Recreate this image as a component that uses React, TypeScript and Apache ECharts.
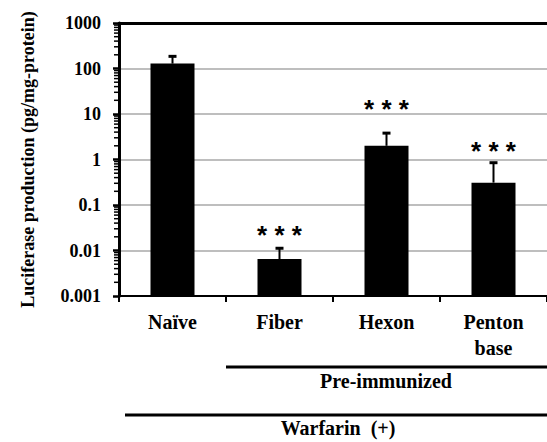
import React, { useEffect, useRef } from "react";
import * as echarts from "echarts";

// Group names and measured luciferase levels (pg/mg-protein)
const categories = ["Naïve", "Fiber", "Hexon", "Penton\nbase"];
const meanValues = [128, 0.0065, 2.0, 0.31];
const upperValues = [185, 0.0112, 3.8, 0.85];
// Significance marks and the level (in data units) they are written at
const sigLabels = ["", "* * *", "* * *", "* * *"];
const sigLevels = [0, 0.029, 17.4, 2.1];
const yTickLabels = ["0.001", "0.01", "0.1", "1", "10", "100", "1000"];
const groupLabels = ["Pre-immunized", "Warfarin  (+)"];
const yAxisTitle = "Luciferase production (pg/mg-protein)";

const Y_MIN = 0.001;
const Y_MAX = 1000;
const BAR_WIDTH = 44;

const SERIF = "'Liberation Serif', 'Times New Roman', serif";
const SANS = "'Liberation Sans', Arial, sans-serif";

export default function App() {
  const ref = useRef<HTMLDivElement>(null);

  useEffect(() => {
    if (!ref.current) return;
    const chart = echarts.init(ref.current, undefined, { renderer: "svg" });

    chart.setOption({
      animation: false,
      backgroundColor: "#fff",
      grid: { left: 119, top: 23, width: 434, height: 273, containLabel: false },
      xAxis: [
        {
          type: "category",
          data: categories,
          boundaryGap: true,
          axisLine: { lineStyle: { color: "#000", width: 2 } },
          axisTick: { show: true, alignWithLabel: false, length: 6, lineStyle: { color: "#000", width: 2 } },
          axisLabel: {
            color: "#000",
            fontFamily: SERIF,
            fontWeight: "bold",
            fontSize: 20,
            lineHeight: 26,
            margin: 13,
          },
        },
        {
          type: "category",
          data: categories,
          position: "top",
          axisLine: { lineStyle: { color: "#000", width: 3 } },
          axisTick: { show: false },
          axisLabel: { show: false },
        },
      ],
      yAxis: {
        type: "log",
        logBase: 10,
        min: Y_MIN,
        max: Y_MAX,
        splitNumber: 6,
        name: yAxisTitle,
        nameLocation: "middle",
        nameRotate: 90,
        nameGap: 82,
        nameTextStyle: { color: "#000", fontFamily: SERIF, fontWeight: "bold", fontSize: 18 },
        axisLine: { show: true, lineStyle: { color: "#000", width: 3 } },
        axisTick: { show: true, length: 6, lineStyle: { color: "#000", width: 2.5 } },
        axisLabel: {
          color: "#000",
          fontFamily: SERIF,
          fontWeight: "bold",
          fontSize: 18,
          margin: 18,
          formatter: (v: number) => {
            const i = Math.round(Math.log10(v)) + 3;
            return yTickLabels[i] ?? String(v);
          },
        },
        splitLine: { show: true, lineStyle: { color: "#a8a8a8", width: 1.5 } },
      },
      series: [
        {
          // bars rise from the bottom of the log axis
          type: "custom",
          z: 2,
          data: meanValues.map((m, i) => [i, m]),
          renderItem: (_params: any, api: any) => {
            const top = api.coord([api.value(0), api.value(1)]);
            const base = api.coord([api.value(0), Y_MIN]);
            return {
              type: "rect",
              shape: { x: top[0] - BAR_WIDTH / 2, y: top[1], width: BAR_WIDTH, height: base[1] - top[1] },
              style: { fill: "#000" },
            };
          },
        },
        {
          type: "custom",
          z: 3,
          data: meanValues.map((m, i) => [i, m, upperValues[i]]),
          renderItem: (_params: any, api: any) => {
            const base = api.coord([api.value(0), api.value(1)]);
            const top = api.coord([api.value(0), api.value(2)]);
            return {
              type: "group",
              children: [
                {
                  type: "line",
                  shape: { x1: base[0], y1: base[1], x2: base[0], y2: top[1] },
                  style: { stroke: "#000", lineWidth: 2 },
                },
                {
                  type: "line",
                  shape: { x1: base[0] - 4, y1: top[1], x2: base[0] + 4, y2: top[1] },
                  style: { stroke: "#000", lineWidth: 3 },
                },
              ],
            };
          },
        },
        {
          type: "custom",
          z: 4,
          data: sigLevels.map((v, i) => [i, v]).filter((_d, i) => sigLabels[i] !== ""),
          renderItem: (_params: any, api: any) => {
            const idx = api.value(0);
            const p = api.coord([idx, api.value(1)]);
            return {
              type: "text",
              x: p[0],
              y: p[1] + 6,
              style: {
                text: sigLabels[idx],
                fill: "#000",
                fontFamily: SANS,
                fontWeight: "bold",
                fontSize: 26,
                align: "center",
                verticalAlign: "middle",
              },
            };
          },
        },
      ],
    });

    // Log minor ticks, group brackets and their labels, placed from the axes
    const c0 = chart.convertToPixel({ xAxisIndex: 0 }, categories[0]) as number;
    const c1 = chart.convertToPixel({ xAxisIndex: 0 }, categories[1]) as number;
    const step = c1 - c0;
    const leftEdge = c0 - step / 2;
    const graphics: any[] = [];
    for (let d = -3; d < 3; d++) {
      for (let k = 2; k <= 9; k++) {
        const y = chart.convertToPixel({ yAxisIndex: 0 }, k * Math.pow(10, d)) as number;
        graphics.push({
          type: "line",
          shape: { x1: leftEdge - 5, y1: y, x2: leftEdge, y2: y },
          style: { stroke: "#000", lineWidth: 1.5 },
        });
      }
    }
    const preX1 = c0 + step / 2;
    graphics.push(
      {
        type: "line",
        shape: { x1: preX1, y1: 367, x2: 551, y2: 367 },
        style: { stroke: "#000", lineWidth: 3 },
      },
      {
        type: "text",
        x: 386,
        y: 381,
        style: {
          text: groupLabels[0],
          fill: "#000",
          fontFamily: SERIF,
          fontWeight: "bold",
          fontSize: 20,
          align: "center",
          verticalAlign: "middle",
        },
      },
      {
        type: "line",
        shape: { x1: leftEdge + 6, y1: 415, x2: 551, y2: 415 },
        style: { stroke: "#000", lineWidth: 3 },
      },
      {
        type: "text",
        x: 338,
        y: 428,
        style: {
          text: groupLabels[1],
          fill: "#000",
          fontFamily: SERIF,
          fontWeight: "bold",
          fontSize: 20,
          align: "center",
          verticalAlign: "middle",
        },
      }
    );
    chart.setOption({ graphic: graphics });

    return () => chart.dispose();
  }, []);

  return (
    <div
      ref={ref}
      style={{ position: "absolute", left: 0, top: 0, width: 547, height: 442, background: "#fff" }}
    />
  );
}
